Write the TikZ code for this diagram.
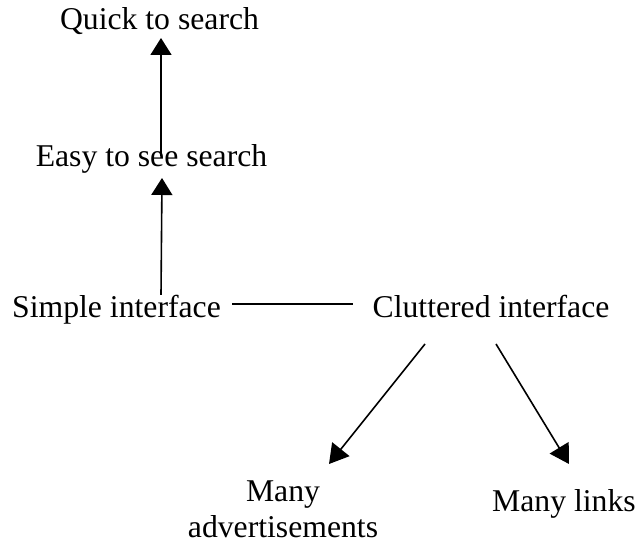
\documentclass[tikz,border=0pt]{standalone}
\usepackage{fontspec}
\setmainfont{Liberation Serif}
\usetikzlibrary{arrows.meta}
\begin{document}
\begin{tikzpicture}[x=1pt,y=1pt,
  lbl/.style={anchor=base,inner sep=0pt,font=\fontsize{31.7}{36}\selectfont},
  conn/.style={line width=1.6pt,black},
  arr/.style={conn,-{Triangle[length=17pt,width=21pt]}},
  darr/.style={conn,-{Triangle[length=19pt,width=22pt]}}]
\useasboundingbox (0,0) rectangle (637,545);
\node[lbl] (quick) at (159.5,515) {Quick to search};
\node[lbl] (easy) at (151.5,378) {Easy to see search};
\node[lbl] (simple) at (116.5,227) {Simple interface};
\node[lbl] (clutter) at (491,227) {Cluttered interface};
\node[lbl,align=center] (ads) at (283,7) {Many\\advertisements};
\node[lbl] (links) at (564,33) {Many links};
\coordinate (a1s) at (161,389);
\coordinate (a1e) at (161,507);
\coordinate (a2s) at (161,250);
\coordinate (a2e) at (162,367);
\coordinate (hs) at (232,241);
\coordinate (he) at (353,241);
\coordinate (d1s) at (425,201);
\coordinate (d1e) at (329,81);
\coordinate (d2s) at (496,201);
\coordinate (d2e) at (569,81);
\draw[arr] (a1s) -- (a1e);
\draw[arr] (a2s) -- (a2e);
\draw[conn] (hs) -- (he);
\draw[darr] (d1s) -- (d1e);
\draw[darr] (d2s) -- (d2e);
\end{tikzpicture}
\end{document}
